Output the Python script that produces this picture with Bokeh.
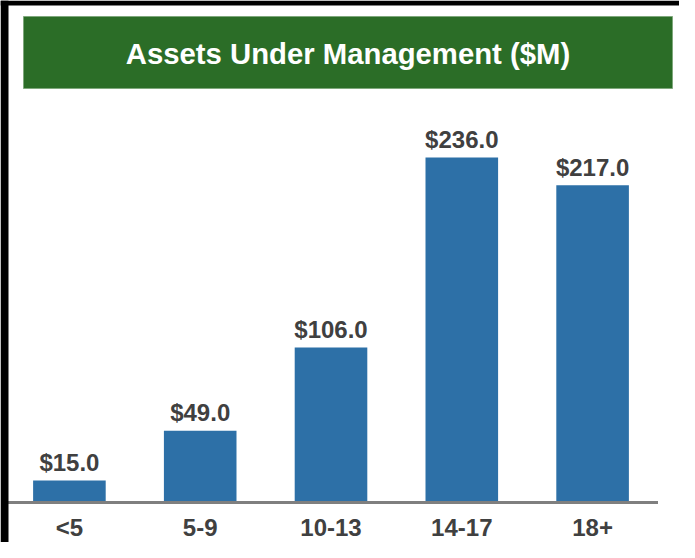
from bokeh.plotting import figure
from bokeh.models import Range1d, ColumnDataSource
from bokeh.core.properties import value
from bokeh.embed import file_html
from bokeh.resources import INLINE

# ---- data ----
chart_title = "Assets Under Management ($M)"
categories = ["<5", "5-9", "10-13", "14-17", "18+"]
aum = [15.0, 49.0, 106.0, 236.0, 217.0]
value_labels = ["$" + f"{v:.1f}" for v in aum]

# ---- styles / layout ----
W, H = 679, 542
FONT = value("Liberation Sans")
BAR = "#2D70A7"
GREEN = "#2B6D27"
TXT = "#404040"

x_pos = list(range(len(categories)))

p = figure(width=W, height=H, output_backend="svg", toolbar_location=None, tools="",
           x_range=Range1d(-0.5268, 4.6644), y_range=Range1d(-27.36, 343.37),
           x_axis_type=None, y_axis_type=None, min_border=0,
           outline_line_color=None, background_fill_color="white",
           border_fill_color="white")
p.extra_x_ranges = {"px": Range1d(0, W)}
p.extra_y_ranges = {"px": Range1d(H, 0)}

# title banner
p.quad(left=[23], right=[672], top=[16], bottom=[88], fill_color=GREEN,
       line_color="#7FA87C", line_width=1, x_range_name="px", y_range_name="px")
p.text(x=[347.5], y=[53.2], text=[chart_title], text_font=FONT, text_font_size="29.3px",
       text_font_style="bold", text_color="white", text_align="center",
       text_baseline="middle", x_range_name="px", y_range_name="px")

src = ColumnDataSource(dict(x=x_pos, cat=categories, aum=aum, lbl=value_labels))

p.vbar(x="x", top="aum", bottom=0, width=0.555, fill_color=BAR, line_color=None, source=src)

# baseline / axis line
p.segment(x0=[-0.5], x1=[len(categories) - 0.5], y0=[0], y1=[0],
          line_color="#7F7F7F", line_width=3)

# value labels
p.text(x="x", y="aum", text="lbl", source=src, y_offset=-18, text_font=FONT,
       text_font_size="24px", text_font_style="bold", text_color=TXT,
       text_align="center", text_baseline="middle")

# category labels
p.text(x="x", y=0, text="cat", source=src, y_offset=24.5, text_font=FONT,
       text_font_size="24px", text_font_style="bold", text_color=TXT,
       text_align="center", text_baseline="middle")

# black frame
p.quad(left=[0, 0], right=[W, 8], top=[0, 0], bottom=[5, H], fill_color="black",
       line_color=None, x_range_name="px", y_range_name="px")

open("out.html", "w").write(file_html(p, INLINE))
